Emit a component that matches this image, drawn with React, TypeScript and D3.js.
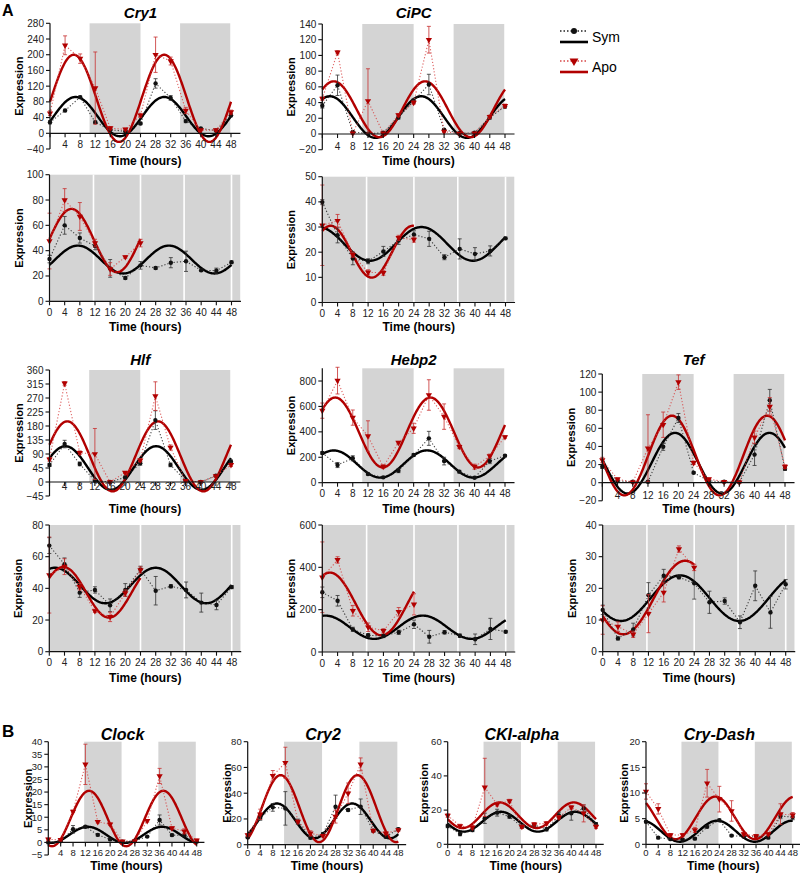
import React, { useEffect, useRef } from "react";
import * as d3 from "d3";

const hours = [0, 4, 8, 12, 16, 20, 24, 28, 32, 36, 40, 44, 48];
const hoursHalf = [0, 4, 8, 12, 16, 20, 24];

// fit params: [mesor, amplitude, acrophase (h), period (h)]

// Cry1 LD
const cry1LdSym = [28, 58, 92, 28, 9, 5, 25, 127, 90, 31, 12, 7, 46];
const cry1LdSymErr = [4, 3, 3, 3, 2, 2, 3, 12, 6, 4, 2, 2, 4];
const cry1LdApo = [51, 224, 190, 115, 13, 10, 46, 200, 184, 58, 8, 8, 54];
const cry1LdApoErr = [6, 24, 12, 92, 4, 3, 5, 45, 10, 8, 2, 2, 5];
const cry1LdFits = [[42.5, 50, 6.8, 23.5], [89, 111, 6.3, 24]];

// CiPC LD
const cipcLdSym = [36, 62, 2.5, 0.5, 1.5, 21, 42, 63, 5.5, 1, 1.5, 21, 35];
const cipcLdSymErr = [3, 13, 1, 1, 1, 2, 3, 13, 1, 1, 1, 2, 2];
const cipcLdApo = [45, 104, 1, 42, 1, 24, 40, 120, 3, 0.5, 1, 22, 36];
const cipcLdApoErr = [2, 2, 1, 41, 1, 2, 2, 17, 1, 1, 1, 2, 2];
const cipcLdFits = [[21.5, 26.5, 2, 24], [31.5, 35.5, 3, 24]];

// Cry1 DD
const cry1DdSym = [33.4, 60, 50, 43.7, 26, 18.4, 28.4, 26.3, 30.5, 31.6, 24.5, 24.2, 30.8];
const cry1DdSymErr = [3, 7, 4, 3, 7, 1, 3, 1, 4, 8, 1, 2, 1];
const cry1DdApo = [47.6, 80, 67, 46, 25.5, 35, 46];
const cry1DdApoErr = [22, 9, 11, 3, 5, 1, 3];
const cry1DdFits = [[33, 11, 7.5, 24], [48, 25, 5.8, 24]];

// CiPC DD
const cipcDdSym = [39.9, 26.7, 17.5, 16.4, 20.3, 24.6, 27, 25.3, 18, 21.3, 19.3, 20.5, 25.5];
const cipcDdSymErr = [1, 3, 2.5, 1, 2, 1.5, 1.5, 3, 1, 4, 2.5, 2, 0.5];
const cipcDdApo = [30.7, 32.5, 19, 12, 11.8, 25.7, 25];
const cipcDdApoErr = [16, 2.5, 1, 1, 1, 1, 1];
const cipcDdFits = [[23.3, 6.7, 26, 27], [20.2, 10.3, 2.2, 21.5]];

// Hlf LD
const hlfLdSym = [55, 122, 58, 4, 0, 15, 60, 199, 55, 4, 0, 20, 65];
const hlfLdSymErr = [5, 12, 6, 3, 2, 4, 6, 30, 6, 3, 2, 3, 6];
const hlfLdApo = [73, 317, 94, 90, 0, 30, 70, 276, 111, 4, 0, 19, 55];
const hlfLdApoErr = [6, 6, 6, 82, 2, 3, 5, 46, 8, 3, 2, 2, 5];
const hlfLdFits = [[45, 70, 4.2, 24], [82.5, 112.5, 4.7, 24]];

// Hebp2 LD
const hebp2LdSym = [234, 139, 192, 68, 42, 94, 218, 349, 170, 87, 39, 170, 213];
const hebp2LdSymErr = [10, 20, 20, 8, 6, 15, 10, 55, 30, 10, 5, 20, 8];
const hebp2LdApo = [567, 803, 512, 367, 126, 315, 428, 690, 520, 283, 126, 210, 360];
const hebp2LdApoErr = [60, 105, 60, 120, 15, 10, 40, 120, 100, 15, 20, 15, 10];
const hebp2LdFits = [[147, 107, 3, 24.5], [395, 275, 3.4, 25]];

// Tef LD
const tefLdSym = [17.7, 2, 1, 1, 39.7, 71.4, 11, 2, 1, 0.5, 31, 91, 15.5];
const tefLdSymErr = [2, 1, 1, 1, 4, 5, 1, 1, 1, 1, 12, 12, 2];
const tefLdApo = [25, 4, 0.5, 38, 64, 111, 22, 4, 1, 0.5, 50, 84, 17.7];
const tefLdApoErr = [3, 1, 1, 37, 14, 8, 2, 1, 1, 1, 7, 10, 2];
const tefLdFits = [[21.5, 33.5, 19.1, 24.8], [30, 44, 18.3, 25]];

// Hlf DD
const hlfDdSym = [67, 55.2, 37.3, 39, 29.3, 39, 52, 38.5, 41.3, 39, 31, 29.5, 40.8];
const hlfDdSymErr = [5, 4, 3, 2, 4, 4, 2, 9, 1, 5, 6, 3, 1];
const hlfDdApo = [48.4, 53.7, 41, 25.7, 22, 37, 51.6];
const hlfDdApoErr = [24, 5, 2, 1, 3, 2, 2];
const hlfDdFits = [[41.8, 11.2, 1.5, 26.5], [37.5, 16, 3.7, 24]];

// Hebp2 DD
const hebp2DdSym = [282, 242, 107, 79, 76, 93, 131, 72, 93, 77, 60, 109, 96];
const hebp2DdSymErr = [25, 25, 10, 8, 8, 10, 20, 30, 8, 8, 25, 50, 5];
const hebp2DdApo = [353, 435, 195, 117, 100, 190, 225];
const hebp2DdApoErr = [167, 15, 25, 20, 10, 20, 50];
const hebp2DdFits = [[117, 55, 0.8, 25.5], [227, 148, 2, 27]];

// Tef DD
const tefDdSym = [13.2, 4.2, 7, 17.8, 24, 23.5, 21.6, 15.6, 16, 9.3, 20.8, 12.4, 21.3];
const tefDdSymErr = [1.5, 0.5, 2, 4, 2, 0.5, 5, 3.5, 1, 2, 4.7, 5, 1.5];
const tefDdApo = [10, 7.9, 5.5, 12, 18.7, 32.4, 26.6];
const tefDdApoErr = [4.5, 1.5, 1, 6, 3, 1, 1];
const tefDdFits = [[16.9, 7.2, 20.3, 31], [17.1, 11.6, 21.6, 32.4]];

// Clock
const clockSym = [0, 0.5, 5.2, 6.2, 3, 1.2, 0.3, 0.7, 2.3, 8.9, 2.9, 2.8, 0.3];
const clockSymErr = [0.3, 0.3, 1.5, 0.5, 0.5, 0.3, 0.3, 0.3, 0.3, 2, 0.5, 0.5, 0.3];
const clockApo = [1.2, 1, 12.3, 31, 8.2, 7.2, 0.4, 0.5, 8.6, 26.4, 5.7, 4.4, 0.8];
const clockApoErr = [0.5, 0.5, 0.5, 8, 0.5, 0.5, 0.3, 0.3, 0.5, 3, 0.5, 1, 0.5];
const clockFits = [[3, 3.2, 12.8, 24], [9.5, 11, 13.2, 24]];

// Cry2
const cry2Sym = [5.7, 21, 29, 28.2, 17.9, 5.4, 8.3, 29.5, 27, 29.5, 10.9, 6.2, 12];
const cry2SymErr = [1, 2, 3, 13, 2, 1, 1, 9, 1, 6, 1, 1, 1];
const cry2Apo = [7.5, 23.6, 53.6, 63.7, 17.9, 8.8, 7, 21.8, 39.9, 62.4, 10.9, 8.8, 11.4];
const cry2ApoErr = [1, 4, 4, 12, 1, 2, 1, 5, 8, 5, 1, 1, 1];
const cry2Fits = [[18.5, 13.5, 9.3, 24], [28, 26, 10.5, 24.5]];

// CKI-alpha
const ckiSym = [10.7, 6, 8.4, 15.2, 18.5, 16.2, 10.3, 11.3, 8.8, 16.8, 18.1, 21, 11.7];
const ckiSymErr = [1, 1, 1, 3, 2, 1, 1, 1, 1, 2, 4, 2, 1];
const ckiApo = [16.8, 10.7, 9.9, 33.3, 23.4, 25.3, 10.3, 11.7, 12.3, 15.8, 21.6, 18.1, 10.3];
const ckiApoErr = [1, 1, 1, 17, 1, 1, 1, 1, 1, 1, 1, 5, 1];
const ckiFits = [[13.2, 5.8, 17.2, 24], [17, 7.5, 16.8, 24]];

// Cry-Dash
const cryDashSym = [4.4, 1.3, 1, 0.9, 1.1, 3.4, 4.7, 1.7, 1.5, 1.6, 1.3, 5.5, 5.3];
const cryDashSymErr = [0.2, 0.2, 0.2, 0.2, 0.2, 0.2, 0.2, 0.2, 0.2, 0.2, 0.2, 0.5, 0.5];
const cryDashApo = [10.3, 6.9, 1.8, 1.8, 2.8, 11.9, 8.8, 6.5, 2, 1.6, 2, 5.9, 5.7];
const cryDashApoErr = [1.5, 1, 0.3, 0.3, 0.5, 2.7, 2.5, 2, 0.3, 0.3, 0.3, 2, 0.5];
const cryDashFits = [[2.55, 2.05, 23.3, 24.5], [5.15, 4.15, 22.7, 26]];

const xTicks = [0, 4, 8, 12, 16, 20, 24, 28, 32, 36, 40, 44, 48];
const darkA = [[10.5, 24], [34.5, 47.8]];
const darkB = [[11.6, 23.7], [35.6, 47.7]];
const ddGaps = [11.6, 24, 35.5, 48];

const RED = "#b10000";
const GRAY = "#d4d4d4";
const FONT = "'Liberation Sans', Arial, sans-serif";

type Panel = {
  title: string; sym: number[]; symErr: number[]; apo: number[]; apoErr: number[]; fits: number[][];
  x0: number; x48: number; yMin: number; yMax: number; yBotPx: number; yTopPx: number;
  yTicks: number[]; dd: boolean; dark?: number[][]; titleY?: number; timeY: number;
  tickDy: number; exprDx: number; big?: boolean;
};

const panels: Panel[] = [
  { title: "Cry1", sym: cry1LdSym, symErr: cry1LdSymErr, apo: cry1LdApo, apoErr: cry1LdApoErr, fits: cry1LdFits,
    x0: 50, x48: 231, yMin: -40, yMax: 280, yBotPx: 149, yTopPx: 23.3, yTicks: d3.range(-40, 281, 40),
    dd: false, dark: darkA, titleY: 18, timeY: 165, tickDy: 14.5, exprDx: 31 },
  { title: "CiPC", sym: cipcLdSym, symErr: cipcLdSymErr, apo: cipcLdApo, apoErr: cipcLdApoErr, fits: cipcLdFits,
    x0: 322.3, x48: 505, yMin: -20, yMax: 140, yBotPx: 149.7, yTopPx: 24, yTicks: d3.range(-20, 141, 20),
    dd: false, dark: darkA, titleY: 18, timeY: 165, tickDy: 16, exprDx: 31 },
  { title: "", sym: cry1DdSym, symErr: cry1DdSymErr, apo: cry1DdApo, apoErr: cry1DdApoErr, fits: cry1DdFits,
    x0: 49.5, x48: 231.5, yMin: 0, yMax: 100, yBotPx: 301.3, yTopPx: 174.7, yTicks: d3.range(0, 101, 20),
    dd: true, timeY: 331, tickDy: 14.5, exprDx: 31 },
  { title: "", sym: cipcDdSym, symErr: cipcDdSymErr, apo: cipcDdApo, apoErr: cipcDdApoErr, fits: cipcDdFits,
    x0: 322.3, x48: 505.5, yMin: 0, yMax: 50, yBotPx: 302.5, yTopPx: 176.7, yTicks: d3.range(0, 51, 10),
    dd: true, timeY: 331, tickDy: 14.5, exprDx: 31 },
  { title: "Hlf", sym: hlfLdSym, symErr: hlfLdSymErr, apo: hlfLdApo, apoErr: hlfLdApoErr, fits: hlfLdFits,
    x0: 49.5, x48: 231, yMin: -45, yMax: 360, yBotPx: 496, yTopPx: 370, yTicks: d3.range(-45, 361, 45),
    dd: false, dark: darkA, titleY: 365, timeY: 513, tickDy: 7.5, exprDx: 31 },
  { title: "Hebp2", sym: hebp2LdSym, symErr: hebp2LdSymErr, apo: hebp2LdApo, apoErr: hebp2LdApoErr, fits: hebp2LdFits,
    x0: 322.3, x48: 505, yMin: 0, yMax: 900, yBotPx: 482.7, yTopPx: 368.3, yTicks: d3.range(0, 801, 200),
    dd: false, dark: darkA, titleY: 365, timeY: 513, tickDy: 14.5, exprDx: 31 },
  { title: "Tef", sym: tefLdSym, symErr: tefLdSymErr, apo: tefLdApo, apoErr: tefLdApoErr, fits: tefLdFits,
    x0: 602.3, x48: 785, yMin: -20, yMax: 120, yBotPx: 500.8, yTopPx: 374, yTicks: d3.range(-20, 121, 20),
    dd: false, dark: darkA, titleY: 365, timeY: 513, tickDy: 16, exprDx: 31 },
  { title: "", sym: hlfDdSym, symErr: hlfDdSymErr, apo: hlfDdApo, apoErr: hlfDdApoErr, fits: hlfDdFits,
    x0: 49.3, x48: 231.7, yMin: 0, yMax: 80, yBotPx: 651.7, yTopPx: 525, yTicks: d3.range(0, 81, 20),
    dd: true, timeY: 682, tickDy: 14.5, exprDx: 31 },
  { title: "", sym: hebp2DdSym, symErr: hebp2DdSymErr, apo: hebp2DdApo, apoErr: hebp2DdApoErr, fits: hebp2DdFits,
    x0: 322.3, x48: 505.7, yMin: 0, yMax: 600, yBotPx: 652, yTopPx: 525, yTicks: d3.range(0, 601, 200),
    dd: true, timeY: 682, tickDy: 14.5, exprDx: 31 },
  { title: "", sym: tefDdSym, symErr: tefDdSymErr, apo: tefDdApo, apoErr: tefDdApoErr, fits: tefDdFits,
    x0: 602.7, x48: 785.7, yMin: 0, yMax: 40, yBotPx: 651.7, yTopPx: 525, yTicks: d3.range(0, 41, 10),
    dd: true, timeY: 682, tickDy: 14.5, exprDx: 31 },
  { title: "Clock", sym: clockSym, symErr: clockSymErr, apo: clockApo, apoErr: clockApoErr, fits: clockFits,
    x0: 48.3, x48: 196.7, yMin: -5, yMax: 40, yBotPx: 855, yTopPx: 741.7, yTicks: d3.range(-5, 41, 5),
    dd: false, dark: darkB, titleY: 740, timeY: 870, tickDy: 14, exprDx: 20, big: true },
  { title: "Cry2", sym: cry2Sym, symErr: cry2SymErr, apo: cry2Apo, apoErr: cry2ApoErr, fits: cry2Fits,
    x0: 247.7, x48: 398.3, yMin: 0, yMax: 80, yBotPx: 844.7, yTopPx: 741.7, yTicks: d3.range(0, 81, 20),
    dd: false, dark: darkB, titleY: 740, timeY: 870, tickDy: 11.5, exprDx: 21, big: true },
  { title: "CKI-alpha", sym: ckiSym, symErr: ckiSymErr, apo: ckiApo, apoErr: ckiApoErr, fits: ckiFits,
    x0: 447.7, x48: 596, yMin: 0, yMax: 60, yBotPx: 844.3, yTopPx: 741.7, yTicks: d3.range(0, 61, 20),
    dd: false, dark: darkB, titleY: 740, timeY: 870, tickDy: 11.8, exprDx: 24, big: true },
  { title: "Cry-Dash", sym: cryDashSym, symErr: cryDashSymErr, apo: cryDashApo, apoErr: cryDashApoErr, fits: cryDashFits,
    x0: 646, x48: 792.7, yMin: 0, yMax: 20, yBotPx: 844.3, yTopPx: 741.7, yTicks: d3.range(0, 21, 5),
    dd: false, dark: darkB, titleY: 740, timeY: 870, tickDy: 11.8, exprDx: 22, big: true },
];

const cosinor = (f: number[], t: number) => f[0] + f[1] * Math.cos((2 * Math.PI * (t - f[2])) / f[3]);

function drawPanel(svg: any, p: Panel) {
  const x = d3.scaleLinear().domain([0, 48]).range([p.x0, p.x48]);
  const y = d3.scaleLinear().domain([p.yMin, p.yMax]).range([p.yBotPx, p.yTopPx]);
  const g = svg.append("g");
  const xEnd = x(50.5);

  // background shading
  if (p.dd) {
    g.append("rect").attr("x", x(0)).attr("y", y(p.yMax)).attr("width", x(50.3) - x(0))
      .attr("height", y(0) - y(p.yMax)).attr("fill", GRAY);
    g.selectAll(".gap").data(ddGaps).join("rect")
      .attr("x", (d: number) => x(d) - 0.8).attr("y", y(p.yMax)).attr("width", 1.6)
      .attr("height", y(0) - y(p.yMax)).attr("fill", "#fff");
  } else {
    g.selectAll(".dark").data(p.dark).join("rect")
      .attr("x", (d: number[]) => x(d[0])).attr("y", y(p.yMax))
      .attr("width", (d: number[]) => x(d[1]) - x(d[0]))
      .attr("height", y(0) - y(p.yMax)).attr("fill", GRAY);
  }

  const apoHours = p.apo.length === 13 ? hours : hoursHalf;
  const series = [
    { vals: p.sym, err: p.symErr, hrs: hours, dot: "#222", errC: "#333", fit: p.fits[0], fitC: "#000", tri: false },
    { vals: p.apo, err: p.apoErr, hrs: apoHours, dot: "#d84545", errC: "#c83030", fit: p.fits[1], fitC: RED, tri: true },
  ];

  // fitted cosine curves
  series.forEach((s) => {
    const tEnd = s.hrs[s.hrs.length - 1];
    const ts = d3.range(0, tEnd + 0.001, 0.2);
    const line = d3.line<number>().x((t) => x(t)).y((t) => y(cosinor(s.fit, t)));
    g.append("path").attr("d", line(ts)).attr("fill", "none").attr("stroke", s.fitC)
      .attr("stroke-width", 2.4);
  });

  // dotted connecting lines, error bars, points
  series.forEach((s) => {
    const pts = s.vals.map((v, i) => [s.hrs[i], v]);
    const line = d3.line<number[]>().x((d) => x(d[0])).y((d) => y(d[1]));
    g.append("path").attr("d", line(pts)).attr("fill", "none").attr("stroke", s.dot)
      .attr("stroke-width", 1.1).attr("stroke-dasharray", "1.2,2").attr("opacity", 0.85);
    pts.forEach((d, i) => {
      const e = s.err[i];
      const cx = x(d[0]);
      g.append("line").attr("x1", cx).attr("x2", cx).attr("y1", y(d[1] - e)).attr("y2", y(d[1] + e))
        .attr("stroke", s.errC).attr("stroke-width", 1).attr("opacity", 0.8);
      [d[1] - e, d[1] + e].forEach((v) => {
        g.append("line").attr("x1", cx - 2).attr("x2", cx + 2).attr("y1", y(v)).attr("y2", y(v))
          .attr("stroke", s.errC).attr("stroke-width", 1).attr("opacity", 0.8);
      });
    });
    if (s.tri) {
      const sym = d3.symbol().type(d3.symbolTriangle).size(17);
      g.selectAll(null).data(pts).join("path").attr("d", sym())
        .attr("transform", (d: number[]) => `translate(${x(d[0])},${y(d[1])}) rotate(180)`)
        .attr("fill", RED);
    } else {
      g.selectAll(null).data(pts).join("circle").attr("cx", (d: number[]) => x(d[0]))
        .attr("cy", (d: number[]) => y(d[1])).attr("r", 2.2).attr("fill", "#111");
    }
  });

  // axes
  const y0 = y(0);
  g.append("line").attr("x1", x(0)).attr("x2", x(0)).attr("y1", y(p.yMin)).attr("y2", y(p.yMax))
    .attr("stroke", "#111").attr("stroke-width", 1.2);
  g.append("line").attr("x1", x(0)).attr("x2", xEnd).attr("y1", y0).attr("y2", y0)
    .attr("stroke", "#111").attr("stroke-width", 1.2);
  p.yTicks.forEach((v) => {
    g.append("line").attr("x1", x(0) - 4).attr("x2", x(0)).attr("y1", y(v)).attr("y2", y(v))
      .attr("stroke", "#111").attr("stroke-width", 1.1);
    g.append("text").attr("x", x(0) - 6).attr("y", y(v)).attr("dy", "0.35em").attr("text-anchor", "end")
      .attr("font-size", p.big ? 9.5 : 10).attr("fill", "#222").attr("font-family", FONT)
      .text(v < 0 ? `\u2212${Math.abs(v)}` : `${v}`);
  });
  xTicks.forEach((t) => {
    g.append("line").attr("x1", x(t)).attr("x2", x(t)).attr("y1", y0).attr("y2", y0 + 4)
      .attr("stroke", "#111").attr("stroke-width", 1.1);
    if (t === 0 && p.yMin < 0) return;
    g.append("text").attr("x", x(t)).attr("y", y0 + p.tickDy).attr("text-anchor", "middle")
      .attr("font-size", p.big ? 9.5 : 10).attr("fill", "#222").attr("font-family", FONT).text(`${t}`);
  });

  // labels
  g.append("text").attr("x", (x(0) + xEnd) / 2).attr("y", p.timeY).attr("text-anchor", "middle")
    .attr("font-size", 12).attr("font-weight", "bold").attr("font-family", FONT).text("Time (hours)");
  const ymid = (p.yBotPx + p.yTopPx) / 2;
  g.append("text").attr("transform", `translate(${x(0) - p.exprDx},${ymid}) rotate(-90)`)
    .attr("text-anchor", "middle").attr("dominant-baseline", "central")
    .attr("font-size", 11).attr("font-weight", "bold").attr("font-family", FONT).text("Expression");
  if (p.title) {
    g.append("text").attr("x", (p.x0 + p.x48) / 2).attr("y", p.titleY).attr("text-anchor", "middle")
      .attr("font-size", p.big ? 16 : 15).attr("font-weight", "bold").attr("font-style", "italic")
      .attr("font-family", FONT).text(p.title);
  }
}

function drawLegend(svg: any) {
  const g = svg.append("g").attr("font-family", FONT);
  const items = [
    { label: "Sym", y: 31, color: "#000", dot: "#222", tri: false },
    { label: "Apo", y: 61, color: RED, dot: "#d84545", tri: true },
  ];
  items.forEach((it) => {
    g.append("line").attr("x1", 560).attr("x2", 588).attr("y1", it.y).attr("y2", it.y)
      .attr("stroke", it.dot).attr("stroke-width", 1.5).attr("stroke-dasharray", "1.5,2");
    if (it.tri) {
      g.append("path").attr("d", d3.symbol().type(d3.symbolTriangle).size(34)())
        .attr("transform", `translate(574,${it.y}) rotate(180)`).attr("fill", RED);
    } else {
      g.append("circle").attr("cx", 574).attr("cy", it.y).attr("r", 3).attr("fill", "#111");
    }
    g.append("line").attr("x1", 560).attr("x2", 588).attr("y1", it.y + 11).attr("y2", it.y + 11)
      .attr("stroke", it.color).attr("stroke-width", 2.6);
    g.append("text").attr("x", 592).attr("y", it.y + 6).attr("dy", "0.35em").attr("font-size", 14)
      .text(it.label);
  });
}

export default function App() {
  const ref = useRef<SVGSVGElement>(null);
  useEffect(() => {
    const svg = d3.select(ref.current);
    svg.selectAll("*").remove();
    panels.forEach((p) => drawPanel(svg, p));
    drawLegend(svg);
    svg.append("text").attr("x", 2).attr("y", 16).attr("font-size", 16).attr("font-weight", "bold")
      .attr("font-family", FONT).text("A");
    svg.append("text").attr("x", 2).attr("y", 737).attr("font-size", 17).attr("font-weight", "bold")
      .attr("font-family", FONT).text("B");
  }, []);
  return (
    <svg ref={ref} width={800} height={875}
      style={{ position: "absolute", left: 0, top: 0, background: "#fff" }} />
  );
}
